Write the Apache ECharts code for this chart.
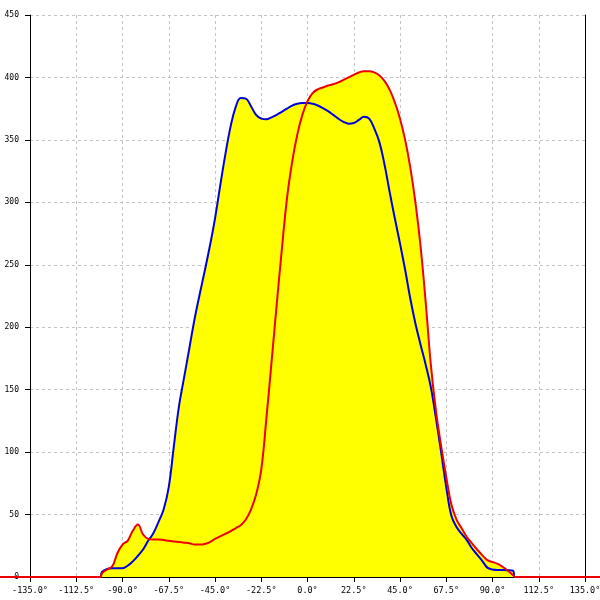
<!DOCTYPE html>
<html>
<head>
<meta charset="utf-8">
<script src="https://cdn.jsdelivr.net/npm/echarts@6/dist/echarts.min.js"></script>
<style>html,body{margin:0;padding:0;background:#fff;overflow:hidden}#c{width:600px;height:600px}</style>
</head>
<body>
<div id="c"></div>
<script>
var angles = [-180,-135,-101,-100,-97.5,-95,-92.5,-90,-87.5,-85,-82.5,-80,-77.5,-75,-72.5,-70,-67.5,-65,-62.5,-60,-57.5,-55,-52.5,-50,-47.5,-45,-42.5,-40,-37.5,-35,-32.5,-30,-27.5,-25,-22.5,-20,-17.5,-15,-12.5,-10,-7.5,-5,-2.5,0,2.5,5,7.5,10,12.5,15,17.5,20,22.5,25,27.5,30,32.5,35,37.5,40,42.5,45,47.5,50,52.5,55,57.5,60,62.5,65,67.5,70,72.5,75,77.5,80,82.5,85,87.5,90,92.5,95,97.5,100,101,135,180];
var blueValues = [0,0,0,4,6.5,7,7,7,9,12.5,17,22,29,35,44,54,72,105,137,160,183,206,226,245,265,287,313,338,360,376,383.5,383,377,370,367,366.5,368,370,372.5,375,377.5,379,379.5,379.5,379,377.5,375.5,373,370,367,364.5,363,363.5,366,368.5,367,359,348,330,308,287,267,246,223,203,186,170,152,127,100,72,49,40,34.5,29.5,23,18,13,7.5,6,5.6,5.6,5.5,5,0,0,0];
var redValues = [0,0,0,3,6,8.5,19,26,29,37,42,34,30.5,30,30,29.6,29,28.5,28,27.5,27,26,26,26.5,28,30.5,32.5,34.5,36.5,39,41.5,46,54,66,86,127,172,218,262,303,332,354,370,381,387.5,390.5,392,393.5,394.5,396,398,400,402,404,405,405,404,401.5,397,390,380,367,350,328,300,265,220,170,133,105,80,58,46,39,32,27,22,17.5,13.5,12,10.5,8,5,1.5,0,0,0];
var xTicks = {min: -135, max: 135, step: 22.5};
var yTicks = {min: 0, max: 450, step: 50};

function pairs(xs, ys){ return xs.map(function(x,i){ return [x, ys[i]]; }); }

// plot box in pixels (main grid) and a second, full-width grid with the same scale
var box = {left: 30, right: 15, top: 15, bottom: 23, width: 600};
var degPerPx = (xTicks.max - xTicks.min) / (box.width - box.left - box.right);
var fullMin = xTicks.min - box.left * degPerPx;
var fullMax = xTicks.max + box.right * degPerPx;

var chart = echarts.init(document.getElementById('c'));
var font = {fontFamily: 'DejaVu Sans Mono', fontSize: 8.5, color: '#000'};
var gridLine = {color: '#c4c4c4', type: [3, 3], width: 1};
var lineCommon = {type: 'line', symbol: 'none', smooth: 0.4};
chart.setOption({
  animation: false,
  backgroundColor: '#fff',
  grid: [
    {left: box.left, right: box.right, top: box.top, bottom: box.bottom, outerBoundsMode: 'none', containLabel: false},
    {left: 0, right: 0, top: box.top, bottom: box.bottom, outerBoundsMode: 'none', containLabel: false}
  ],
  xAxis: [{
    type: 'value', min: xTicks.min, max: xTicks.max, interval: xTicks.step,
    axisLine: {show: true, onZero: false, lineStyle: {color: '#000', width: 1}},
    axisTick: {show: true, length: 5, lineStyle: {color: '#000'}},
    axisLabel: Object.assign({margin: 9, formatter: function(v){ return v.toFixed(1) + '°'; }, showMinLabel: true, showMaxLabel: true}, font),
    splitLine: {show: true, lineStyle: gridLine}
  }, {
    gridIndex: 1, type: 'value', min: fullMin, max: fullMax, show: false
  }],
  yAxis: [{
    type: 'value', min: yTicks.min, max: yTicks.max, interval: yTicks.step,
    axisLine: {show: true, onZero: false, lineStyle: {color: '#000', width: 1}},
    axisTick: {show: true, length: 5, lineStyle: {color: '#000'}},
    axisLabel: Object.assign({margin: 11}, font, {fontSize: 8}),
    splitLine: {show: true, lineStyle: gridLine}
  }, {
    type: 'value', position: 'right', min: yTicks.min, max: yTicks.max, interval: yTicks.step,
    axisLine: {show: true, onZero: false, lineStyle: {color: '#000', width: 1}},
    axisTick: {show: false}, axisLabel: {show: false}, splitLine: {show: false}
  }, {
    gridIndex: 1, type: 'value', min: yTicks.min, max: yTicks.max, show: false
  }],
  series: [
    Object.assign({}, lineCommon, {data: pairs(angles, blueValues), lineStyle: {width: 0}, areaStyle: {color: '#ffff00', opacity: 1}, z: 2}),
    Object.assign({}, lineCommon, {data: pairs(angles, redValues), lineStyle: {width: 0}, areaStyle: {color: '#ffff00', opacity: 1}, z: 2}),
    Object.assign({}, lineCommon, {data: pairs(angles, blueValues), lineStyle: {color: '#0000dd', width: 2}, z: 4}),
    Object.assign({}, lineCommon, {xAxisIndex: 1, yAxisIndex: 2, data: pairs(angles, redValues), lineStyle: {color: '#ee0000', width: 2}, z: 5})
  ]
});
</script>
</body>
</html>
